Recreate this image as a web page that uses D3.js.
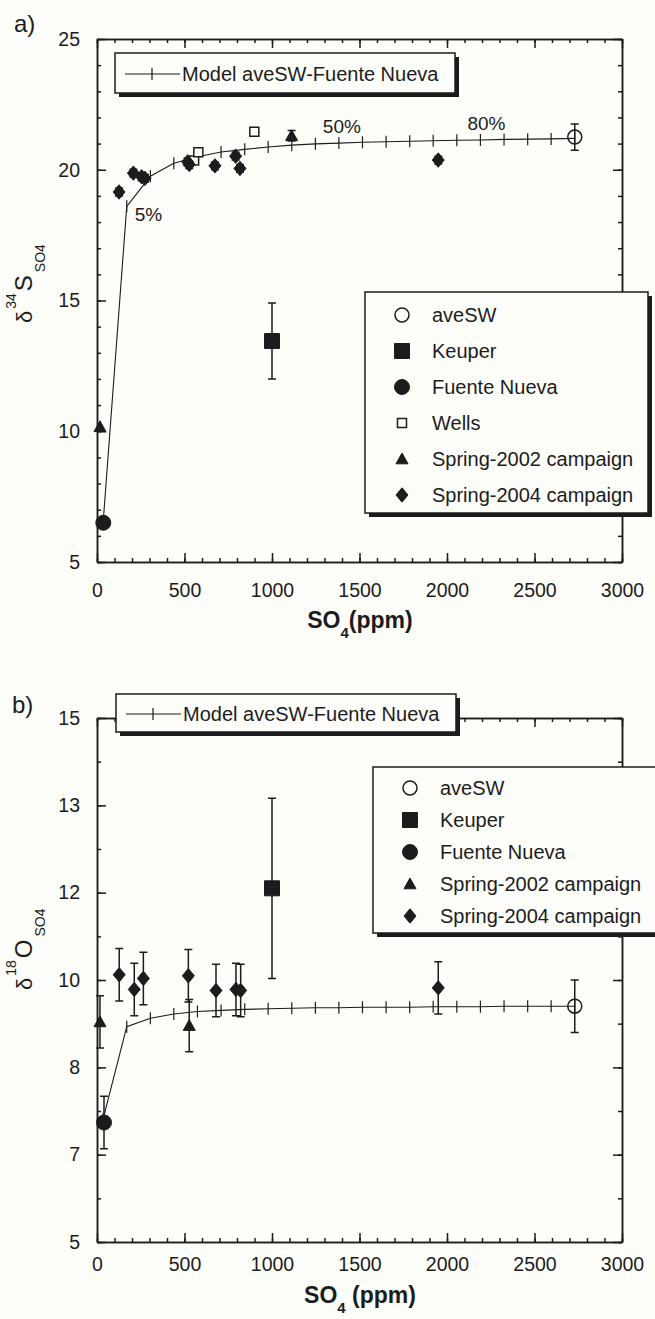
<!DOCTYPE html>
<html>
<head>
<meta charset="utf-8">
<script src="https://cdn.jsdelivr.net/npm/d3@7"></script>
<style>
  body { margin: 0; background: #fdfdf9; }
  svg text { font-family: "Liberation Sans", Arial, sans-serif; fill: #1c1c1c; }
</style>
</head>
<body>
<div class="chart"></div>
<script>
var width = 655, height = 1319;

// x ticks (SO4, ppm)
var xMajor = [0, 500, 1000, 1500, 2000, 2500, 3000];
var xMinor = d3.range(0, 3001, 100);

// y ticks panel a (d34S)
var yMajorA = [5, 10, 15, 20, 25];
var yMinorA = d3.range(5, 25.01, 1);

// y ticks panel b (d18O) - axis is 5..15 split in 12, labels get rounded
var yMajorB = [5, 6.667, 8.333, 10, 11.667, 13.333, 15];
var yLabelsB = ["5", "7", "8", "10", "12", "13", "15"];
var yMinorB = [5, 5.833, 6.667, 7.5, 8.333, 9.167, 10, 10.833, 11.667, 12.5, 13.333, 14.167, 15];

// mixing model aveSW - Fuente Nueva, one cross every 5 %
var modelSO4 = [35, 170, 305, 439, 574, 709, 844, 978, 1113, 1248, 1382, 1517, 1652, 1787, 1921, 2056, 2191, 2326, 2461, 2595, 2730];
var modelS34 = [6.5, 18.6, 19.75, 20.25, 20.5, 20.68, 20.78, 20.87, 20.94, 20.99, 21.02, 21.05, 21.07, 21.09, 21.11, 21.13, 21.14, 21.16, 21.17, 21.18, 21.2];
var modelO18 = [7.35, 9.11, 9.27, 9.35, 9.4, 9.42, 9.44, 9.45, 9.46, 9.47, 9.47, 9.48, 9.48, 9.48, 9.49, 9.49, 9.49, 9.5, 9.5, 9.5, 9.5];
var pctLabels = ["5%", "50%", "80%"];
var pctIndex = [1, 10, 16];

// measured points panel a: x = SO4 ppm, y = d34S, e = error
var aveSW_a = [{ x: 2730, y: 21.25, e: 0.5 }];
var keuper_a = [{ x: 1000, y: 13.45, e: 1.45 }];
var fuente_a = [{ x: 36, y: 6.5, e: 0 }];
var wells_a = [{ x: 555, y: 20.35, e: 0 }, { x: 579, y: 20.67, e: 0 }, { x: 899, y: 21.45, e: 0 }];
var spring02_a = [{ x: 17, y: 10.17, e: 0 }, { x: 1112, y: 21.3, e: 0.2 }];
var spring04_a = [
  { x: 126, y: 19.15, e: 0.15 }, { x: 208, y: 19.87, e: 0.15 }, { x: 255, y: 19.73, e: 0.15 },
  { x: 274, y: 19.67, e: 0.15 }, { x: 518, y: 20.3, e: 0.15 }, { x: 527, y: 20.2, e: 0.15 },
  { x: 674, y: 20.15, e: 0.15 }, { x: 792, y: 20.52, e: 0.15 }, { x: 817, y: 20.05, e: 0.15 },
  { x: 1950, y: 20.37, e: 0.15 }
];

// measured points panel b: y = d18O
var aveSW_b = [{ x: 2730, y: 9.5, e: 0.5 }];
var keuper_b = [{ x: 1000, y: 11.75, e: 1.72 }];
var fuente_b = [{ x: 40, y: 7.28, e: 0.5 }];
var spring02_b = [{ x: 17, y: 9.2, e: 0.5 }, { x: 527, y: 9.13, e: 0.5 }];
var spring04_b = [
  { x: 127, y: 10.1, e: 0.5 }, { x: 213, y: 9.82, e: 0.5 }, { x: 265, y: 10.03, e: 0.5 },
  { x: 522, y: 10.08, e: 0.5 }, { x: 680, y: 9.8, e: 0.5 }, { x: 794, y: 9.82, e: 0.5 },
  { x: 821, y: 9.8, e: 0.5 }, { x: 1950, y: 9.85, e: 0.5 }
];

var ink = "#1c1c1c";
var bg = "#fdfdf9";

var svg = d3
  .select(".chart")
  .append("svg")
  .attr("width", width)
  .attr("height", height)
  .style("background", bg);

function symbolPath(type, r) {
  if (type == "circle")
    return `M${r},0A${r},${r} 0 1,1 ${-r},0A${r},${r} 0 1,1 ${r},0Z`;
  if (type == "square")
    return `M${-r},${-r}h${2 * r}v${2 * r}h${-2 * r}Z`;
  if (type == "triangle")
    return `M0,${-r}L${r},${r * 0.8}L${-r},${r * 0.8}Z`;
  // diamond
  return `M0,${-r * 1.2}L${r},0L0,${r * 1.2}L${-r},0Z`;
}

function drawSymbol(g, s, cx, cy) {
  g.append("path")
    .attr("d", symbolPath(s.type, s.r))
    .attr("transform", `translate(${cx},${cy})`)
    .attr("fill", s.open ? (s.type == "circle" ? "none" : bg) : ink)
    .attr("stroke", ink)
    .attr("stroke-width", s.open ? 1.5 : 1);
}

function drawPanel(p) {
  var g = svg.append("g");
  var x = d3.scaleLinear().domain([0, 3000]).range([97, 622]);
  var y = d3.scaleLinear().domain(p.yDomain).range([p.bottom, p.top]);

  function addAxis(axis, transform, ticks, size, fmt, pad) {
    var a = g
      .append("g")
      .attr("transform", transform)
      .attr("color", ink)
      .call(axis.tickValues(ticks).tickSize(-size).tickSizeOuter(0).tickPadding(pad || 0).tickFormat(fmt || ""));
    a.selectAll("line, path").attr("stroke-width", 1.5);
    a.selectAll("text").attr("font-size", 19.5).attr("font-family", '"Liberation Sans", Arial, sans-serif');
    return a;
  }

  // frame with inward ticks on all four sides
  addAxis(d3.axisBottom(x), `translate(0,${p.bottom})`, xMinor, 4);
  addAxis(d3.axisBottom(x), `translate(0,${p.bottom})`, xMajor, 9, d3.format("d"), p.xPad);
  addAxis(d3.axisTop(x), `translate(0,${p.top})`, xMinor, 4);
  addAxis(d3.axisTop(x), `translate(0,${p.top})`, xMajor, 9);
  addAxis(d3.axisLeft(y), "translate(97,0)", p.yMinor, 4);
  addAxis(d3.axisLeft(y), "translate(97,0)", p.yMajor, 9, p.yFormat, 17);
  addAxis(d3.axisRight(y), "translate(622,0)", p.yMinor, 4);
  addAxis(d3.axisRight(y), "translate(622,0)", p.yMajor, 9);

  // model line with crosses
  var line = d3.line().x((d, i) => x(modelSO4[i])).y(d => y(d));
  g.append("path")
    .attr("d", line(p.model))
    .attr("fill", "none")
    .attr("stroke", ink)
    .attr("stroke-width", 1.1);
  g.selectAll(".cross")
    .data(p.model)
    .enter()
    .append("line")
    .attr("x1", (d, i) => x(modelSO4[i]))
    .attr("x2", (d, i) => x(modelSO4[i]))
    .attr("y1", d => y(d) - 6)
    .attr("y2", d => y(d) + 6)
    .attr("stroke", ink)
    .attr("stroke-width", 1.2);

  (p.pct || []).forEach(function(lab, k) {
    var i = pctIndex[k];
    g.append("text")
      .attr("x", x(modelSO4[i]) + lab.dx)
      .attr("y", y(p.model[i]) + lab.dy)
      .attr("font-size", 19)
      .attr("text-anchor", lab.anchor)
      .text(pctLabels[k]);
  });

  // error bars then symbols
  p.series.forEach(function(s) {
    s.data.forEach(function(d) {
      if (d.e > 0) {
        var cx = x(d.x), ya = y(d.y + d.e), yb = y(d.y - d.e);
        g.append("path")
          .attr("d", `M${cx},${ya}V${yb}M${cx - 4},${ya}H${cx + 4}M${cx - 4},${yb}H${cx + 4}`)
          .attr("fill", "none")
          .attr("stroke", ink)
          .attr("stroke-width", 1.5);
      }
    });
  });
  p.series.forEach(function(s) {
    s.data.forEach(d => drawSymbol(g, s, x(d.x), y(d.y)));
  });

  // model legend box
  var mb = p.modelBox;
  g.append("rect").attr("x", mb.x + 4).attr("y", mb.y + 4).attr("width", mb.w).attr("height", mb.h).attr("fill", ink);
  g.append("rect").attr("x", mb.x).attr("y", mb.y).attr("width", mb.w).attr("height", mb.h)
    .attr("fill", bg).attr("stroke", ink).attr("stroke-width", 1.5);
  var my = mb.y + mb.h / 2 + 1;
  g.append("path")
    .attr("d", `M${mb.x + 10},${my}H${mb.x + 65}M${mb.x + 37},${my - 6}V${my + 6}`)
    .attr("stroke", ink)
    .attr("stroke-width", 1.2);
  g.append("text").attr("x", mb.x + 67).attr("y", my + 7).attr("font-size", 20).text("Model aveSW-Fuente Nueva");

  // symbol legend box
  var lb = p.legendBox;
  g.append("rect").attr("x", lb.x + 4).attr("y", lb.y + 4).attr("width", lb.w).attr("height", lb.h).attr("fill", ink);
  g.append("rect").attr("x", lb.x).attr("y", lb.y).attr("width", lb.w).attr("height", lb.h)
    .attr("fill", bg).attr("stroke", ink).attr("stroke-width", 1.5);
  p.series.forEach(function(s, i) {
    var ry = lb.y + lb.first + i * lb.step;
    drawSymbol(g, s, lb.x + 37, ry);
    g.append("text").attr("x", lb.x + 67).attr("y", ry + 7).attr("font-size", 20).text(s.name);
  });

  // axis titles
  var xt = g.append("text").attr("x", 360).attr("y", p.bottom + p.xTitle).attr("text-anchor", "middle")
    .attr("font-size", 23).attr("font-weight", "bold");
  xt.append("tspan").text("SO");
  xt.append("tspan").attr("font-size", 15).attr("dy", 10).text("4");
  xt.append("tspan").attr("dy", -10).text(p.xGap + "(ppm)");

  var yt = g.append("text").attr("transform", `translate(32,${p.yTitle}) rotate(-90)`);
  yt.append("tspan").attr("font-size", 22).text("δ");
  yt.append("tspan").attr("font-size", 14).attr("dx", 2).attr("dy", -16).text(p.iso);
  yt.append("tspan").attr("font-size", 24).attr("dx", 2).attr("dy", 16).text(p.el);
  yt.append("tspan").attr("font-size", 14).attr("dx", 3).attr("dy", 13).text("SO4");

  svg.append("text").attr("x", p.tag.x).attr("y", p.tag.y).attr("font-size", 24).text(p.tag.t);
}

var styles = {
  aveSW: { name: "aveSW", type: "circle", r: 7, open: true },
  keuper: { name: "Keuper", type: "square", r: 7.5 },
  fuente: { name: "Fuente Nueva", type: "circle", r: 7.5 },
  wells: { name: "Wells", type: "square", r: 4.5, open: true },
  s02: { name: "Spring-2002 campaign", type: "triangle", r: 6 },
  s04: { name: "Spring-2004 campaign", type: "diamond", r: 6 }
};

drawPanel({
  yDomain: [5, 25], top: 39, bottom: 562,
  yMajor: yMajorA, yMinor: yMinorA, yFormat: d3.format("d"), xPad: 21, xTitle: 66,
  model: modelS34,
  pct: [{ dx: 8, dy: 15, anchor: "start" }, { dx: 3, dy: -10, anchor: "middle" }, { dx: 6, dy: -10, anchor: "middle" }],
  series: [
    Object.assign({ data: aveSW_a }, styles.aveSW),
    Object.assign({ data: keuper_a }, styles.keuper),
    Object.assign({ data: fuente_a }, styles.fuente),
    Object.assign({ data: wells_a }, styles.wells),
    Object.assign({ data: spring02_a }, styles.s02),
    Object.assign({ data: spring04_a }, styles.s04)
  ],
  modelBox: { x: 115, y: 53, w: 340, h: 40 },
  legendBox: { x: 365, y: 292, w: 283, h: 221, first: 23, step: 36 },
  xGap: "", yTitle: 323, iso: "34", el: "S",
  tag: { x: 14, y: 32, t: "a)" }
});

drawPanel({
  yDomain: [5, 15], top: 718, bottom: 1242,
  yMajor: yMajorB, yMinor: yMinorB, yFormat: d => yLabelsB[yMajorB.indexOf(d)], xPad: 15, xTitle: 61,
  model: modelO18,
  series: [
    Object.assign({ data: aveSW_b }, styles.aveSW),
    Object.assign({ data: keuper_b }, styles.keuper),
    Object.assign({ data: fuente_b }, styles.fuente),
    Object.assign({ data: spring02_b }, styles.s02),
    Object.assign({ data: spring04_b }, styles.s04)
  ],
  modelBox: { x: 116, y: 694, w: 340, h: 38 },
  legendBox: { x: 373, y: 767, w: 300, h: 166, first: 21, step: 32 },
  xGap: " ", yTitle: 990, iso: "18", el: "O",
  tag: { x: 12, y: 713, t: "b)" }
});
</script>
</body>
</html>
